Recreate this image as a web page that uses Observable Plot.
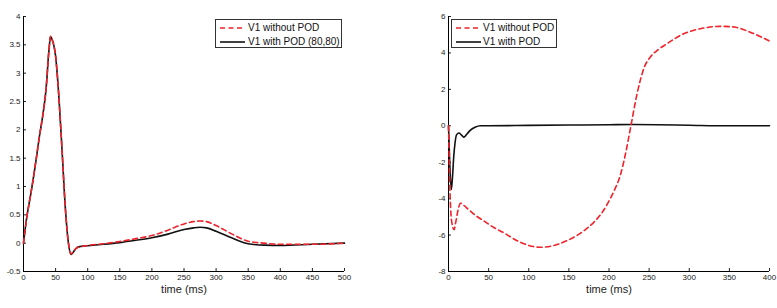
<!DOCTYPE html>
<html>
<head>
<meta charset="utf-8">
<script src="https://cdn.jsdelivr.net/npm/d3@7"></script>
<script src="https://cdn.jsdelivr.net/npm/@observablehq/plot@0.6"></script>
<style>
  html, body { margin: 0; padding: 0; background: #fff; }
  #wrap { position: relative; width: 777px; height: 308px; display: flex; font-family: "Liberation Sans", Arial, sans-serif; }
  .legend { position: absolute; background: #fff; border: 1px solid #333; box-sizing: border-box; font-size: 10px; color: #111; }
  .legend .row { position: absolute; left: 0; height: 12px; line-height: 12px; white-space: nowrap; }
  .legend svg { position: absolute; left: 4px; top: 0; }
  .legend span { position: absolute; top: 0; }
</style>
</head>
<body>
<div id="wrap"></div>
<script>
// ---------- Left panel data ----------
const leftTimeBlack = [0,5,10,15,20,25,30,35,40,42,45,50,55,60,65,70,74,78,82,88,95,100,125,150,175,200,225,250,265,275,285,300,325,350,375,400,450,500];
const leftWithPOD   = [0,0.45,0.78,1.12,1.5,1.9,2.25,2.7,3.45,3.64,3.58,3.3,2.6,1.65,0.65,0.0,-0.2,-0.15,-0.09,-0.06,-0.05,-0.045,-0.02,0.01,0.05,0.095,0.16,0.24,0.27,0.28,0.27,0.21,0.09,-0.01,-0.035,-0.04,-0.02,0];
const leftTimeRed   = [0,5,10,15,20,25,30,35,40,42,45,50,55,60,65,70,74,78,82,88,95,100,125,150,175,200,225,250,265,275,285,300,325,350,375,400,450,500];
const leftWithout   = [0,0.45,0.78,1.12,1.5,1.9,2.25,2.7,3.45,3.65,3.58,3.3,2.6,1.65,0.65,0.0,-0.19,-0.14,-0.09,-0.06,-0.05,-0.04,-0.01,0.03,0.08,0.135,0.23,0.34,0.38,0.39,0.38,0.31,0.16,0.035,0.0,-0.02,-0.02,0];
const leftXTicks = [0,50,100,150,200,250,300,350,400,450,500];
const leftYTicks = [-0.5,0,0.5,1,1.5,2,2.5,3,3.5,4];

// ---------- Right panel data ----------
const rightTimeBlack = [0,1.5,3.5,5,6.5,8,10,13,16,19,23,27,33,40,50,100,150,200,230,260,300,350,400];
const rightWithPOD   = [0,-2,-3.5,-2.8,-1.7,-1.0,-0.5,-0.4,-0.5,-0.62,-0.45,-0.25,-0.08,0,0,0.02,0.04,0.06,0.07,0.06,0.03,0.0,0.0];
const rightTimeRed   = [0,1,2,3,5,7,9,12,15,20,25,34,45,57,70,81,98,115,131,148,165,181,190,198,206,214,221,227,235,244,252,262,272,293,314,339,356,376,400];
const rightWithout   = [0,-2,-3.8,-4.8,-5.5,-5.7,-5.3,-4.6,-4.25,-4.4,-4.6,-4.93,-5.25,-5.6,-5.9,-6.2,-6.54,-6.67,-6.58,-6.3,-5.88,-5.3,-4.85,-4.29,-3.6,-2.73,-1.45,-0.07,1.76,3.22,3.8,4.2,4.5,5.05,5.33,5.46,5.42,5.14,4.65];
const rightXTicks = [0,50,100,150,200,250,300,350,400];
const rightYTicks = [-8,-6,-4,-2,0,2,4,6];

const seriesLabels = {
  left: ["V1 without POD", "V1 with POD (80,80)"],
  right: ["V1 without POD", "V1 with POD"]
};

const RED = "#f0222a";
const toRows = (t, v) => t.map((x, i) => ({t: x, v: v[i]}));

function panel({width, marginLeft, marginRight, xDomain, yDomain, xTicks, yTicks, black, red}) {
  return Plot.plot({
    width, height: 308,
    marginLeft, marginRight, marginTop: 16, marginBottom: 37,
    style: {fontFamily: "Liberation Sans, Arial, sans-serif", background: "#fff", color: "#222"},
    x: {domain: xDomain},
    y: {domain: yDomain},
    marks: [
      Plot.axisX({ticks: xTicks, tickSize: -3, tickPadding: 6, fontSize: 8, tickFormat: d => String(d), label: null}),
      Plot.axisY({ticks: yTicks, tickSize: -3, tickPadding: 6, fontSize: 8, tickFormat: d => String(d), label: null}),
      Plot.ruleX([xDomain[0]], {stroke: "#000", strokeWidth: 1}),
      Plot.ruleY([yDomain[0]], {stroke: "#000", strokeWidth: 1}),
      Plot.text(["time (ms)"], {frameAnchor: "bottom", lineAnchor: "middle", dy: 18, fontSize: 11, fill: "#222"}),
      Plot.line(black, {x: "t", y: "v", stroke: "#111", strokeWidth: 1.6, curve: "monotone-x"}),
      Plot.line(red, {x: "t", y: "v", stroke: RED, strokeWidth: 1.6, strokeDasharray: "5,3.5", curve: "monotone-x"})
    ]
  });
}

const left = panel({
  width: 388, marginLeft: 23, marginRight: 44,
  xDomain: [0, 500], yDomain: [-0.5, 4],
  xTicks: leftXTicks, yTicks: leftYTicks,
  black: toRows(leftTimeBlack, leftWithPOD), red: toRows(leftTimeRed, leftWithout)
});
const right = panel({
  width: 389, marginLeft: 60, marginRight: 8,
  xDomain: [0, 400], yDomain: [-8, 6],
  xTicks: rightXTicks, yTicks: rightYTicks,
  black: toRows(rightTimeBlack, rightWithPOD), red: toRows(rightTimeRed, rightWithout)
});
const wrap = document.getElementById("wrap");
wrap.append(left, right);

function legend(x, y, w, h, labels, textX) {
  const box = document.createElement("div");
  box.className = "legend";
  Object.assign(box.style, {left: x + "px", top: y + "px", width: w + "px", height: h + "px"});
  const styles = [
    `stroke="${RED}" stroke-width="1.6" stroke-dasharray="5,3.5"`,
    `stroke="#111" stroke-width="1.6"`
  ];
  labels.forEach((lab, i) => {
    const row = document.createElement("div");
    row.className = "row";
    row.style.top = (2 + i * 14) + "px";
    row.style.width = w + "px";
    row.innerHTML = `<svg width="26" height="12"><line x1="0" x2="25" y1="6" y2="6" ${styles[i]}/></svg><span style="left:${textX}px">${lab}</span>`;
    box.appendChild(row);
  });
  wrap.appendChild(box);
}
legend(215, 19, 127, 29, seriesLabels.left, 32);
legend(451, 19, 106, 29, seriesLabels.right, 31);
</script>
</body>
</html>
